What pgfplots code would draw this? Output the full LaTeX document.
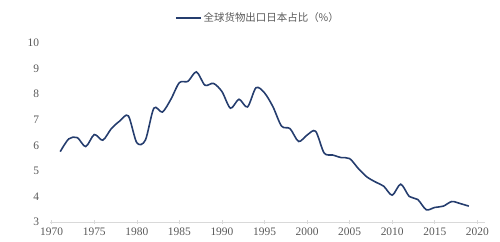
\documentclass[border=0pt]{standalone}
\usepackage{fontspec}
\setmainfont{Liberation Serif}
\newfontfamily\cjk{Noto Sans CJK SC}
\usepackage{pgfplots}
\pgfplotsset{compat=1.18}
\definecolor{linec}{HTML}{253D6E}
\definecolor{txt}{HTML}{595959}
\definecolor{axc}{HTML}{D9D9D9}
\begin{document}
\begin{tikzpicture}
\path[use as bounding box] (0,0) rectangle (500bp,242bp);
\begin{axis}[
  at={(50bp,20bp)}, anchor=south west,
  scale only axis, width=435bp, height=179bp,
  xmin=1969.8, xmax=2020.9, ymin=3, ymax=10,
  axis x line=bottom, axis y line=left,
  x axis line style={draw=axc, line width=0.8pt, -},
  y axis line style={draw=none},
  xtick={1970,1975,...,2020}, ytick={3,4,...,10},
  xtick style={draw=axc, line width=0.6pt},
  major tick length=3bp,
  ytick style={draw=none},
  xticklabel style={text=txt, font=\fontsize{11.5}{13}\selectfont, yshift=-0.5bp},
  yticklabel style={text=txt, font=\fontsize{11.5}{13}\selectfont, xshift=-6bp},
  /pgf/number format/assume math mode=true,
  /pgf/number format/1000 sep={},
  legend style={at={(0.478,1.14)}, anchor=center, draw=none, fill=none,
    font=\cjk\fontsize{10.5}{12}\selectfont, text=txt,
    legend cell align=left},
  legend image code/.code={\draw[#1, line width=1.6pt] (0bp,0bp) -- (25bp,0bp);},
]
\addplot[linec, line width=1.6pt, smooth, tension=0.5] coordinates {
(1971,5.75) (1972,6.25) (1973,6.3) (1974,5.95) (1975,6.42) (1976,6.2)
(1977,6.65) (1978,6.95) (1979,7.15) (1980,6.1) (1981,6.2) (1982,7.45)
(1983,7.3) (1984,7.8) (1985,8.45) (1986,8.5) (1987,8.87) (1988,8.35)
(1989,8.42) (1990,8.1) (1991,7.45) (1992,7.8) (1993,7.5) (1994,8.25)
(1995,8.05) (1996,7.5) (1997,6.75) (1998,6.65) (1999,6.15) (2000,6.4)
(2001,6.55) (2002,5.7) (2003,5.62) (2004,5.52) (2005,5.48) (2006,5.1)
(2007,4.77) (2008,4.57) (2009,4.4) (2010,4.05) (2011,4.48) (2012,4.0)
(2013,3.88) (2014,3.48) (2015,3.57) (2016,3.62) (2017,3.8) (2018,3.72)
(2019,3.62)
};
\addlegendentry{全球货物出口日本占比（\%）}
\end{axis}
\end{tikzpicture}
\end{document}
